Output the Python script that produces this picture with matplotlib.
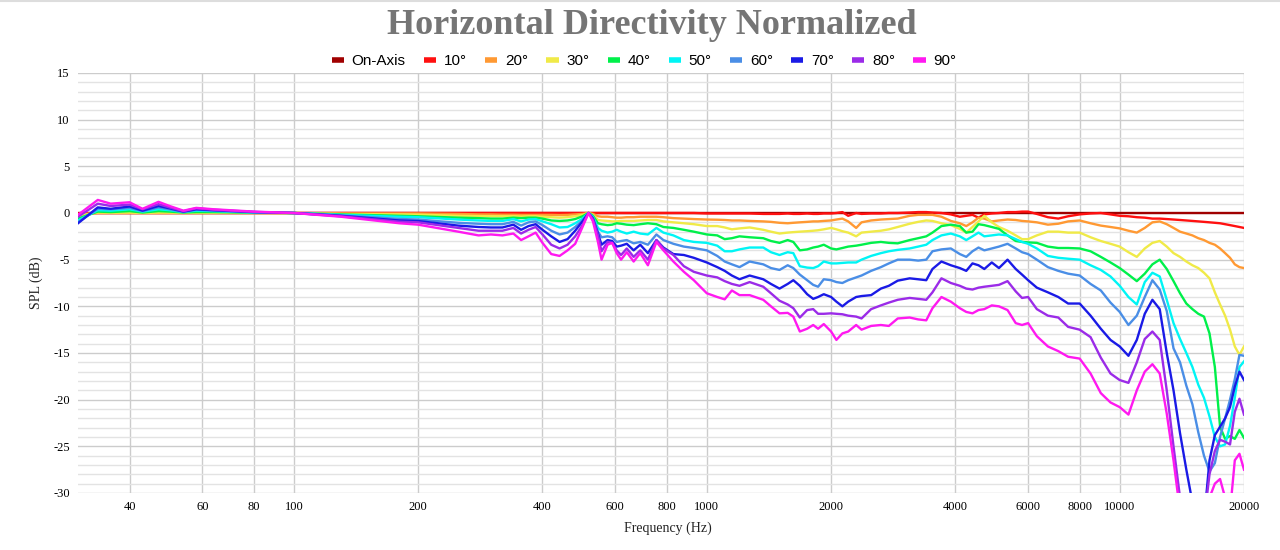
import matplotlib
matplotlib.use('Agg')
import matplotlib.pyplot as plt
from matplotlib.lines import Line2D
from matplotlib.ticker import FixedLocator, FixedFormatter, MultipleLocator, NullLocator

plt.rcParams['axes.unicode_minus'] = False

# frequency points (Hz) shared by all curves
freq = [30, 33.5, 36, 40, 43, 47, 50, 54, 58, 64,
        80, 100, 130, 180, 200, 250, 280, 300, 320, 340,
        355, 370, 385, 400, 420, 440, 460, 480, 500, 517,
        530, 545, 556, 575, 590, 605, 620, 640, 665, 690,
        720, 755, 785, 830, 880, 930, 1000, 1060, 1105, 1150,
        1200, 1270, 1370, 1430, 1500, 1570, 1620, 1680, 1750, 1810,
        1860, 1920, 2000, 2060, 2130, 2200, 2300, 2370, 2500, 2640,
        2760, 2900, 3100, 3250, 3400, 3520, 3700, 3900, 4100, 4250,
        4400, 4550, 4700, 4900, 5100, 5350, 5600, 5800, 6000, 6300,
        6700, 7100, 7500, 8000, 8500, 9000, 9500, 10000, 10500, 11000,
        11500, 12000, 12500, 13000, 13500, 14000, 14500, 15000, 15500, 16000,
        16500, 17000, 17500, 18000, 18500, 19000, 19500, 20000]

on_axis = [0.0] * len(freq)

deg10 = [-0.05, 0.0, 0.0, 0.0, 0.0, 0.0, 0.0, 0.0, 0.0, 0.0,
         0.0, 0.0, 0.0, 0.0, 0.0, 0.0, 0.0, 0.0, 0.0, 0.0,
         0.0, 0.0, 0.0, 0.0, 0.0, 0.0, 0.0, 0.0, 0.0, 0.0,
         0.0, 0.0, 0.0, 0.0, 0.0, 0.0, 0.0, 0.0, 0.0, 0.0,
         0.0, 0.0, 0.0, 0.0, 0.0, 0.0, -0.05, -0.05, -0.05, -0.05,
         -0.05, -0.05, -0.1, -0.1, -0.1, -0.05, -0.1, -0.1, -0.05, -0.1,
         -0.1, -0.05, -0.05, 0.0, 0.1, -0.3, 0.0, -0.1, -0.05, -0.05,
         0.0, 0.0, 0.05, 0.1, 0.1, 0.05, 0.0, -0.15, -0.4, -0.3,
         -0.2, -0.5, -0.15, -0.05, 0.0, 0.1, 0.1, 0.15, 0.15, -0.1,
         -0.45, -0.6, -0.35, -0.15, -0.05, 0.0, -0.15, -0.3, -0.35, -0.45,
         -0.5, -0.6, -0.6, -0.65, -0.7, -0.75, -0.8, -0.85, -0.9, -0.95,
         -1.0, -1.05, -1.1, -1.2, -1.3, -1.4, -1.5, -1.6]

deg20 = [-0.15, 0.0, 0.0, 0.0, 0.0, 0.0, 0.0, 0.0, 0.0, 0.0,
         0.0, 0.0, -0.05, -0.05, -0.05, -0.1, -0.15, -0.15, -0.18, -0.18,
         -0.2, -0.2, -0.2, -0.2, -0.2, -0.22, -0.2, -0.15, -0.1, 0.0,
         -0.1, -0.35, -0.4, -0.4, -0.45, -0.5, -0.5, -0.45, -0.45, -0.4,
         -0.4, -0.4, -0.45, -0.55, -0.6, -0.65, -0.7, -0.72, -0.75, -0.8,
         -0.8, -0.85, -0.9, -0.95, -1.05, -1.1, -1.05, -1.0, -0.95, -0.9,
         -0.9, -0.85, -0.8, -0.7, -0.6, -0.9, -1.6, -1.0, -0.8, -0.7,
         -0.65, -0.6, -0.3, -0.2, -0.2, -0.2, -0.4, -0.85, -1.1, -1.4,
         -1.0, -0.5, -0.6, -0.9, -0.8, -0.7, -0.75, -0.85, -0.9, -1.0,
         -1.25, -1.15, -0.9, -0.8, -1.1, -1.35, -1.5, -1.65, -1.9, -2.1,
         -1.6, -1.0, -0.9, -1.2, -1.6, -2.0, -2.2, -2.4, -2.7, -2.9,
         -3.2, -3.4, -3.8, -4.3, -4.8, -5.5, -5.8, -5.9]

deg30 = [-0.3, 0.05, 0.03, 0.05, 0.0, 0.05, 0.05, 0.0, 0.03, 0.03,
         0.0, 0.0, -0.1, -0.15, -0.18, -0.3, -0.33, -0.35, -0.35, -0.35,
         -0.38, -0.35, -0.35, -0.4, -0.45, -0.5, -0.45, -0.35, -0.2, 0.0,
         -0.2, -0.75, -0.8, -0.85, -0.9, -0.9, -0.85, -0.85, -0.85, -0.8,
         -0.75, -0.75, -0.9, -1.0, -1.1, -1.2, -1.4, -1.4, -1.55, -1.75,
         -1.65, -1.55, -1.8, -2.0, -2.2, -2.1, -2.05, -2.0, -1.95, -1.9,
         -1.85, -1.75, -1.6, -1.75, -1.95, -2.1, -2.5, -2.1, -2.0, -1.9,
         -1.75, -1.5, -1.15, -0.95, -0.8, -0.85, -1.1, -1.3, -1.7, -2.1,
         -1.5, -0.9, -0.3, -1.0, -1.5, -1.9, -2.4, -2.8, -2.8, -2.4,
         -2.0, -2.0, -2.1, -2.1, -2.6, -3.0, -3.3, -3.6, -4.2, -4.7,
         -3.8, -3.2, -3.0, -3.6, -4.3, -4.7, -5.2, -5.6, -5.9, -6.4,
         -7.0, -8.5, -9.8, -11.0, -12.5, -14.3, -15.2, -14.3]

deg40 = [-0.6, 0.15, 0.1, 0.2, 0.05, 0.2, 0.15, 0.05, 0.1, 0.1,
         0.03, 0.0, -0.15, -0.3, -0.35, -0.5, -0.55, -0.6, -0.6, -0.5,
         -0.55, -0.5, -0.5, -0.6, -0.8, -0.85, -0.8, -0.65, -0.35, 0.0,
         -0.3, -1.1, -1.2, -1.3, -1.25, -1.1, -1.15, -1.25, -1.3, -1.2,
         -1.1, -1.2, -1.5, -1.6, -1.8, -2.0, -2.3, -2.4, -2.8, -2.7,
         -2.5, -2.6, -2.7, -3.0, -3.2, -2.9, -3.1, -4.0, -3.9, -3.7,
         -3.6, -3.4, -3.8, -3.9, -3.75, -3.6, -3.5, -3.4, -3.2, -3.1,
         -3.2, -3.25, -2.9, -2.7, -2.5, -2.1, -1.4, -1.25, -1.4, -2.1,
         -2.0, -1.2, -1.3, -1.5, -1.7, -2.4, -3.0, -3.1, -3.15, -3.2,
         -3.6, -3.75, -3.75, -3.8, -4.1, -4.7, -5.3, -5.9, -6.6, -7.3,
         -6.5, -5.5, -5.0, -6.0, -7.3, -8.6, -9.7, -10.3, -10.8, -11.1,
         -12.9, -16.5, -22.9, -24.2, -23.9, -24.2, -23.25, -24.1]

deg50 = [-0.8, 0.3, 0.25, 0.4, 0.15, 0.4, 0.3, 0.1, 0.25, 0.2,
         0.05, 0.0, -0.2, -0.4, -0.45, -0.7, -0.8, -0.85, -0.85, -0.65,
         -0.9, -0.7, -0.65, -0.9, -1.2, -1.55, -1.5, -1.1, -0.6, 0.0,
         -0.4, -1.6, -1.9, -2.1, -2.0, -1.8, -2.0, -2.2, -2.0, -2.2,
         -2.3, -1.6, -2.1, -2.4, -2.9, -3.1, -3.2, -3.5, -4.1, -4.1,
         -3.9, -3.7, -3.7, -4.2, -4.5, -4.2, -4.3, -5.7, -5.85, -5.9,
         -5.7, -5.2, -5.4, -5.4, -5.35, -5.3, -5.3, -5.0, -4.6, -4.3,
         -4.1, -3.95, -3.8, -3.6, -3.4, -2.9, -2.4, -2.2, -2.5, -2.9,
         -2.5, -2.1, -2.5, -2.4, -2.3, -2.4, -2.8, -3.1, -3.3, -3.8,
         -4.6, -4.8, -4.9, -5.0, -5.6, -6.1, -6.8, -7.8, -9.0, -9.8,
         -7.4, -6.4, -6.8, -9.3, -11.8, -13.5, -15.0, -16.5, -18.4, -19.8,
         -21.8, -24.0, -25.0, -24.8, -22.8, -19.8, -16.5, -15.9]

deg60 = [-1.0, 0.45, 0.4, 0.55, 0.2, 0.6, 0.4, 0.1, 0.35, 0.25,
         0.08, 0.0, -0.25, -0.64, -0.7, -1.05, -1.15, -1.2, -1.2, -0.95,
         -1.35, -1.0, -0.9, -1.3, -1.9, -2.3, -2.1, -1.5, -0.8, 0.0,
         -0.5, -2.0, -2.6, -2.5, -2.6, -3.1, -3.0, -2.9, -3.25, -3.1,
         -3.4, -2.3, -2.9, -3.3, -3.6, -3.75, -4.0, -4.6, -5.2, -5.5,
         -5.8, -5.2, -5.5, -5.9, -6.1, -5.6, -5.9, -6.6, -7.2, -7.7,
         -7.9, -7.1, -7.2, -7.4, -7.5, -7.2, -6.9, -6.7, -6.2, -5.8,
         -5.4, -5.0, -5.0, -5.1, -5.0, -4.1, -3.9, -3.8, -4.4, -4.7,
         -4.1, -3.7, -4.0, -3.8, -3.6, -3.3, -3.8, -4.2, -4.4, -5.0,
         -5.8, -6.2, -6.5, -6.7, -7.6, -8.3, -9.6, -10.6, -12.0, -11.0,
         -9.0, -7.2, -8.2, -10.5, -14.5, -16.0, -18.5, -20.5, -23.5, -26.0,
         -27.7, -26.8, -24.0, -22.0, -20.0, -17.8, -15.2, -15.3]

deg70 = [-1.1, 0.6, 0.45, 0.7, 0.25, 0.75, 0.5, 0.15, 0.4, 0.3,
         0.1, 0.0, -0.3, -0.8, -0.86, -1.35, -1.5, -1.55, -1.55, -1.25,
         -1.8, -1.4, -1.2, -1.8, -2.5, -3.1, -2.8, -1.9, -0.9, 0.0,
         -0.6, -2.2, -3.4, -2.9, -3.0, -3.6, -3.5, -3.3, -4.0, -3.4,
         -4.3, -2.9, -3.7, -4.4, -4.5, -4.8, -5.3, -5.8, -6.2, -6.7,
         -7.1, -6.7, -7.1, -7.6, -8.1, -7.6, -7.2, -7.8, -8.7, -9.2,
         -9.0, -8.7, -9.0, -9.5, -10.0, -9.5, -9.0, -8.9, -8.8, -8.1,
         -7.8, -7.25, -7.0, -7.1, -7.2, -6.0, -5.2, -5.6, -5.9, -6.2,
         -5.4, -5.6, -6.0, -5.3, -5.9, -5.0, -6.0, -6.6, -7.2, -8.0,
         -8.5, -9.0, -9.7, -9.7, -11.0, -12.4, -13.6, -14.3, -15.3, -13.6,
         -10.8, -9.3, -10.3, -15.0, -19.0, -23.6, -27.5, -31.0, -36.0, -33.0,
         -26.5, -23.8, -22.9, -22.0, -20.8, -18.6, -17.0, -17.9]

deg80 = [-0.4, 1.0, 0.75, 0.9, 0.4, 0.95, 0.6, 0.2, 0.5, 0.35,
         0.12, 0.0, -0.35, -0.93, -1.0, -1.6, -1.9, -1.9, -1.9, -1.6,
         -2.2, -1.8, -1.5, -2.3, -3.4, -3.8, -3.4, -2.5, -1.3, 0.0,
         -0.7, -2.4, -4.1, -3.1, -3.2, -4.0, -4.5, -3.8, -4.7, -4.0,
         -5.0, -2.9, -3.8, -4.5, -5.7, -6.3, -6.7, -6.9, -7.3, -7.6,
         -7.8, -7.4, -7.9, -8.6, -9.4, -9.8, -10.2, -11.2, -10.4, -10.3,
         -10.8, -10.8, -10.75, -10.8, -10.85, -11.0, -11.1, -11.3, -10.3, -9.9,
         -9.6, -9.3, -9.1, -9.2, -9.3, -8.5, -7.0, -7.5, -7.8, -8.1,
         -8.2, -8.0, -7.9, -7.8, -7.7, -7.3, -8.4, -9.1, -9.0, -10.3,
         -11.0, -11.2, -12.2, -12.5, -13.3, -15.5, -17.2, -17.9, -18.2, -16.0,
         -13.5, -12.7, -13.6, -19.0, -25.0, -30.5, -35.0, -37.0, -36.0, -33.0,
         -28.0, -25.5, -24.3, -24.5, -24.8, -21.3, -19.9, -21.6]

deg90 = [-0.2, 1.4, 1.0, 1.15, 0.45, 1.2, 0.75, 0.25, 0.55, 0.4,
         0.15, 0.0, -0.4, -1.1, -1.25, -2.0, -2.4, -2.3, -2.4, -2.2,
         -2.9, -2.5, -2.1, -3.2, -4.4, -4.6, -4.0, -3.3, -1.5, 0.0,
         -0.9, -3.1, -5.0, -3.4, -3.2, -4.3, -5.0, -4.2, -5.2, -4.3,
         -5.6, -3.1, -4.0, -5.2, -6.3, -7.2, -8.6, -9.0, -9.25, -8.3,
         -8.8, -8.8, -9.3, -10.0, -10.75, -10.7, -11.1, -12.7, -12.4, -12.0,
         -12.4, -11.9, -12.7, -13.6, -12.9, -12.7, -12.0, -12.5, -12.1, -12.0,
         -12.1, -11.3, -11.2, -11.4, -11.5, -10.2, -9.0, -9.5, -10.2, -10.6,
         -10.75, -10.4, -10.3, -9.9, -10.0, -10.4, -11.8, -12.0, -11.8, -13.2,
         -14.3, -14.8, -15.4, -15.6, -17.2, -19.3, -20.3, -20.8, -21.6, -19.0,
         -17.0, -16.2, -17.2, -21.5, -26.5, -32.0, -37.0, -40.0, -38.0, -34.0,
         -30.5, -29.0, -28.5, -30.5, -32.0, -26.5, -25.8, -27.5]

series_names = ['On-Axis', '10°', '20°', '30°', '40°', '50°', '60°', '70°', '80°', '90°']
series_vals = [on_axis, deg10, deg20, deg30, deg40, deg50, deg60, deg70, deg80, deg90]
colors = ['#a00000', '#ff1010', '#ff9933', '#f0ea48', '#00f04a',
          '#00f5f5', '#4a8ee6', '#1a1ae6', '#9b2be8', '#ff19f0']

xtick_vals = [40, 60, 80, 100, 200, 400, 600, 800, 1000, 2000, 4000, 6000, 8000, 10000, 20000]
xtick_labels = [str(v) for v in xtick_vals]

serif = 'Liberation Serif'

fig = plt.figure(figsize=(12.8, 5.5), dpi=100)
ax = fig.add_axes([78 / 1280, 1 - 493 / 550, (1244 - 78) / 1280, (493 - 73) / 550])

for name, vals, c in zip(series_names, series_vals, colors):
    ax.plot(freq, vals, color=c, lw=1.7, solid_joinstyle='round', label=name)

ax.set_xscale('log')
ax.set_xlim(30, 20000)
ax.set_ylim(-30, 15)
ax.xaxis.set_major_locator(FixedLocator(xtick_vals))
ax.xaxis.set_major_formatter(FixedFormatter(xtick_labels))
ax.xaxis.set_minor_locator(NullLocator())
ax.yaxis.set_major_locator(MultipleLocator(5))
ax.yaxis.set_minor_locator(MultipleLocator(1))

ax.grid(True, which='major', color='#cccccc', lw=1.0)
ax.grid(True, which='minor', axis='y', color='#e3e3e3', lw=1.0)
ax.set_axisbelow(True)
for s in ax.spines.values():
    s.set_visible(False)
ax.tick_params(which='both', length=0)
ax.tick_params(axis='x', pad=6, labelsize=9, labelfontfamily=serif)
ax.tick_params(axis='y', pad=6, labelsize=9, labelfontfamily=serif)

fig.text(652 / 1280, 1 - 25 / 550, 'Horizontal Directivity Normalized', ha='center', va='center',
         fontsize=26, fontweight='bold', family=serif, color='#757575')
fig.text(668 / 1280, 1 - 528 / 550, 'Frequency (Hz)', ha='center', va='center',
         fontsize=10, family=serif, color='#222222')
fig.text(36 / 1280, 1 - 283 / 550, 'SPL (dB)', ha='center', va='center', rotation=90,
         fontsize=10, family=serif, color='#222222')

handles = [Line2D([], [], color=c, lw=4, solid_capstyle='butt') for c in colors]
fig.legend(handles, series_names, loc='center', bbox_to_anchor=(644 / 1280, 1 - 61 / 550),
           ncol=10, frameon=False, handlelength=0.8, handletextpad=0.5, columnspacing=1.2,
           prop={'family': 'Liberation Sans', 'size': 11})

fig.add_artist(Line2D([0, 1], [0.998, 0.998], transform=fig.transFigure, color='#dddddd', lw=1.5))

fig.savefig('out.png', dpi=100)
